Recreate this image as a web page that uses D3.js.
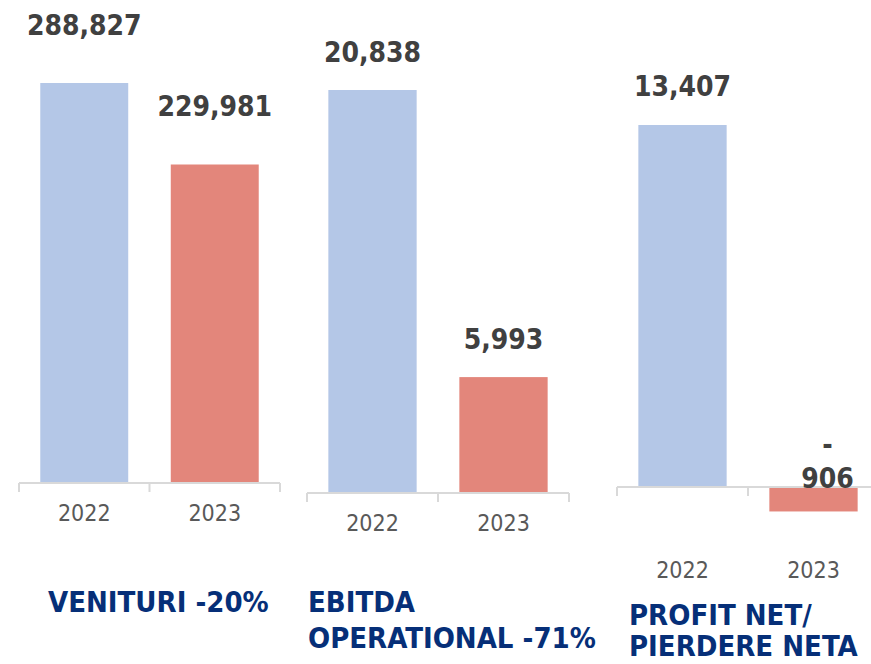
<!DOCTYPE html>
<html><head><meta charset="utf-8">
<script src="https://cdn.jsdelivr.net/npm/d3@7"></script>
<style>body{margin:0;background:#fff} svg{display:block}</style>
</head><body><svg id="c" width="871" height="664"></svg>
<script>
const years = ["2022", "2023"];
const venituri = [288827, 229981];
const ebitda = [20838, 5993];
const profit = [13407, -906];
const titleVenituri = ["VENITURI -20%"];
const titleEbitda = ["EBITDA", "OPERATIONAL -71%"];
const titleProfit = ["PROFIT NET/", "PIERDERE NETA"];
const barColors = ["#B4C7E7", "#E3867B"];

const layout = [
  {values: venituri, title: titleVenituri, x0: 19, x1: 280, base: 483, hMax: 400, gap: 48, yearY: 521, titleX: 48, titleY: 612, titleLH: 36},
  {values: ebitda, title: titleEbitda, x0: 307, x1: 569, base: 493, hMax: 403, gap: 28, yearY: 531, titleX: 308, titleY: 612, titleLH: 36},
  {values: profit, title: titleProfit, x0: 617, x1: 879, base: 487, hMax: 362, gap: 29, yearY: 578, titleX: 629, titleY: 625, titleLH: 31}
];

const svg = d3.select("#c");
const numFont = "'DejaVu Sans Condensed', 'DejaVu Sans', sans-serif";
const fmt = d3.format(",");

layout.forEach(p => {
  const g = svg.append("g");
  const max = d3.max(p.values);
  const y = d3.scaleLinear().domain([0, max]).range([p.base, p.base - p.hMax]);
  const x = d3.scaleBand().domain(years).range([p.x0, p.x1]).paddingInner(0.326).paddingOuter(0.163);
  const step = x.step();

  g.selectAll("rect").data(p.values).join("rect")
    .attr("x", (d, i) => x(years[i]))
    .attr("width", x.bandwidth())
    .attr("y", d => Math.min(y(d), y(0)))
    .attr("height", d => Math.abs(y(d) - y(0)))
    .attr("fill", (d, i) => barColors[i]);

  g.append("line").attr("x1", p.x0).attr("x2", p.x1).attr("y1", y(0)).attr("y2", y(0))
    .attr("stroke", "#D9D9D9").attr("stroke-width", 2);
  const bounds = [p.x0].concat(years.map(c => x(c) - x.paddingOuter() * step + step));
  g.selectAll("line.tk").data(bounds).join("line").attr("class", "tk")
    .attr("x1", d => d).attr("x2", d => d).attr("y1", y(0)).attr("y2", y(0) + 9)
    .attr("stroke", "#D9D9D9").attr("stroke-width", 2);

  const ax = d3.axisBottom(x).tickSize(0).tickPadding(0);
  const axg = g.append("g").attr("transform", `translate(0,${p.yearY})`).call(ax);
  axg.select(".domain").remove();
  axg.selectAll("text").attr("dy", 0).attr("y", 0)
    .attr("font-family", numFont).attr("font-size", 23).attr("fill", "#595959");

  p.values.forEach((v, i) => {
    const cx = x(years[i]) + x.bandwidth() / 2;
    if (v >= 0) {
      g.append("text").attr("x", cx).attr("y", y(v) - p.gap)
        .attr("text-anchor", "middle").attr("font-family", numFont)
        .attr("font-weight", "bold").attr("font-size", 28).attr("fill", "#404040")
        .text(fmt(v));
    } else {
      const t = g.append("text").attr("text-anchor", "middle").attr("font-family", numFont)
        .attr("font-weight", "bold").attr("font-size", 28).attr("fill", "#404040");
      t.append("tspan").attr("x", cx + 14).attr("y", y(0) - 33).text("-");
      t.append("tspan").attr("x", cx + 14).attr("y", y(0) + 1).text(fmt(Math.abs(v)));
    }
  });

  const tt = g.append("text").attr("font-family", numFont).attr("font-weight", "bold")
    .attr("font-size", 29).attr("fill", "#062F78");
  p.title.forEach((line, k) => {
    tt.append("tspan").attr("x", p.titleX).attr("y", p.titleY + k * p.titleLH).text(line);
  });
});
</script>
</body></html>
